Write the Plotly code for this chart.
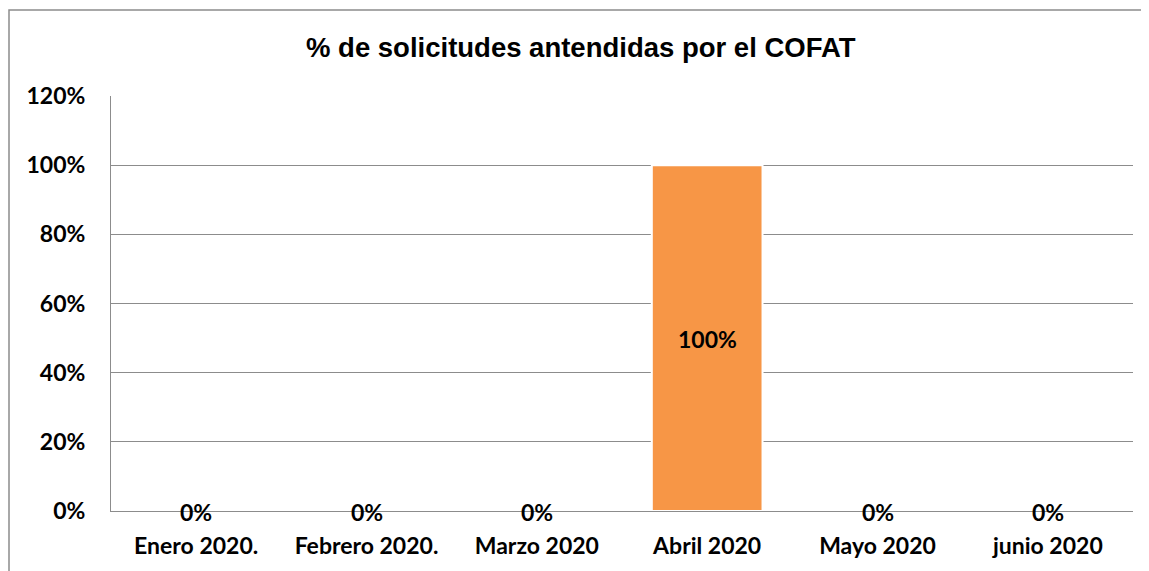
import plotly.graph_objects as go

categories = ["Enero 2020.", "Febrero 2020.", "Marzo 2020", "Abril 2020", "Mayo 2020", "junio 2020"]
values = [0, 0, 0, 1.0, 0, 0]
label_texts = ["0%", "0%", "0%", "100%", "0%", "0%"]
y_tickvals = [0, 0.2, 0.4, 0.6, 0.8, 1.0, 1.2]
y_ticktext = ["0%", "20%", "40%", "60%", "80%", "100%", "120%"]
title_text = "% de solicitudes antendidas por el COFAT"

# page body has an 8px margin; figure sized/positioned to compensate
OFF = 8
W, H = 1149 - OFF, 571 - OFF
ml, mt = 111 - OFF, 96 - OFF
mr = W - (1133 - OFF)
mb = H - (511 - OFF)
pw = W - ml - mr
ph = H - mt - mb

def px_x(x):
    return (x - OFF - ml) / pw

def px_y(y):
    return (H - (y - OFF) - mb) / ph

fig = go.Figure()
fig.add_trace(go.Bar(
    x=categories, y=values,
    marker=dict(color="#F79646", line=dict(color="white", width=2)),
    width=0.65,
    hoverinfo="skip",
))

lab_font = dict(family="Lato", size=23, color="black", weight="bold")
annotations = []
for c, v, t in zip(categories, values, label_texts):
    annotations.append(dict(
        x=c, y=v / 2, xref="x", yref="y", text=t, showarrow=False,
        yshift=-1,
        font=lab_font,
    ))
annotations.append(dict(
    x=px_x(581), y=px_y(48), xref="paper", yref="paper",
    text="<b>" + title_text + "</b>", showarrow=False,
    font=dict(family="Liberation Sans, Arial", size=27.5, color="black"),
    xanchor="center", yanchor="middle",
))

fig.update_layout(
    width=W, height=H,
    margin=dict(l=ml, r=mr, t=mt, b=mb, autoexpand=False),
    paper_bgcolor="white", plot_bgcolor="white",
    showlegend=False,
    annotations=annotations,
    shapes=[dict(
        type="rect", xref="paper", yref="paper",
        x0=px_x(9), x1=px_x(1175),
        y0=px_y(600), y1=px_y(10),
        line=dict(color="#8C8C8C", width=1.5), fillcolor="rgba(0,0,0,0)",
        layer="below",
    )],
)
fig.update_yaxes(
    range=[0, 1.2], tickvals=y_tickvals, ticktext=y_ticktext,
    showgrid=True, gridcolor="#8C8C8C", gridwidth=1,
    showline=True, linecolor="#8C8C8C", linewidth=1,
    ticks="", ticklabelstandoff=20, zeroline=False, automargin=False,
    tickfont=lab_font,
)
fig.update_xaxes(
    showline=True, linecolor="#8C8C8C", linewidth=1,
    ticks="", ticklabelstandoff=14, automargin=False,
    tickfont=lab_font,
)

fig.write_html("out.html")
